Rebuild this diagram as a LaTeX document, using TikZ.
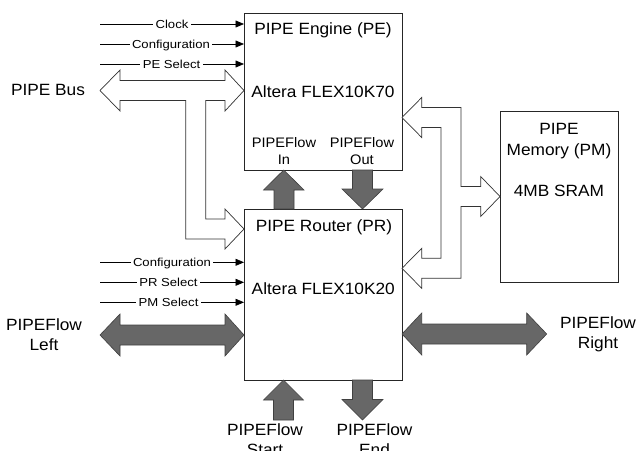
\documentclass[tikz,border=0pt]{standalone}
\usepackage{fontspec}
\setmainfont{Liberation Sans}
\newfontfamily\widefam[FakeStretch=1.06]{Liberation Sans}
\newfontfamily\smallfam[FakeStretch=1.13]{Liberation Sans}
\usetikzlibrary{arrows.meta}
\definecolor{flowgray}{HTML}{676767}
\begin{document}
\begin{tikzpicture}[x=1pt,y=-1pt,
  box/.style={draw=black!85, line width=0.8pt, fill=white, inner sep=0pt, anchor=north west},
  big/.style={font=\widefam\fontsize{16.3}{20.7}\selectfont, align=center, anchor=base, inner sep=0pt},
  mid/.style={font=\widefam\fontsize{13.8}{17}\selectfont, align=center, anchor=base, inner sep=0pt},
  lbl/.style={font=\smallfam\fontsize{11.6}{13}\selectfont, fill=white, inner xsep=2.5pt, inner ysep=1pt, text height=8.3pt, text depth=0pt},
  ctl/.style={line width=0.7pt, -{Triangle[length=8.5pt,width=7pt]}},
  bus/.style={draw=black!80, line width=0.7pt, fill=white, line join=miter},
  flow/.style={draw=black!75, line width=0.6pt, fill=flowgray, line join=miter}]
\useasboundingbox (0,0) rectangle (637,450);
\clip (0,0) rectangle (637,450);

% boxes
\node[box, minimum width=158pt, minimum height=157pt] (pe) at (244,13) {};
\node[box, minimum width=158pt, minimum height=171pt] (pr) at (244,209) {};
\node[box, minimum width=118pt, minimum height=171pt] (pm) at (500,111) {};

% PIPE bus (T-shaped outline arrow)
\draw[bus] (100,90.5) -- (120,70) -- (120,80.5) -- (225,80.5) -- (225,70) -- (244,90.5)
  -- (225,111) -- (225,100.5) -- (205.7,100.5) -- (205.7,219) -- (225,219) -- (225,209)
  -- (244,229) -- (225,249) -- (225,239) -- (185.7,239) -- (185.7,100.5) -- (120,100.5)
  -- (120,111) -- cycle;

% memory bus
\draw[bus] (402,117.5) -- (421.7,97.5) -- (421.7,107.5) -- (461,107.5) -- (461,186.5)
  -- (480.7,186.5) -- (480.7,176.5) -- (500,196.5) -- (480.7,216.5) -- (480.7,206.5)
  -- (461,206.5) -- (461,278.3) -- (421.7,278.3) -- (421.7,288.3) -- (402,268.3)
  -- (421.7,248.3) -- (421.7,258.3) -- (441,258.3) -- (441,127.5) -- (421.7,127.5)
  -- (421.7,137.5) -- cycle;

% PIPEFlow arrows
\draw[flow] (100,335) -- (120,314) -- (120,325) -- (225,325) -- (225,314) -- (244,335)
  -- (225,356) -- (225,345) -- (120,345) -- (120,356) -- cycle;
\draw[flow] (402,334) -- (421.7,313) -- (421.7,324) -- (526.7,324) -- (526.7,313) -- (546.7,334)
  -- (526.7,355) -- (526.7,344) -- (421.7,344) -- (421.7,355) -- cycle;
\draw[flow] (283.7,170) -- (304,190) -- (294,190) -- (294,209) -- (274,209) -- (274,190) -- (263.5,190) -- cycle;
\draw[flow] (352.5,170) -- (372.5,170) -- (372.5,189) -- (383,189) -- (362.5,209) -- (342,189) -- (352.5,189) -- cycle;
\draw[flow] (283.5,380) -- (303.5,400) -- (293.5,400) -- (293.5,420) -- (273.5,420) -- (273.5,400) -- (263.5,400) -- cycle;
\draw[flow] (352.5,380) -- (372.5,380) -- (372.5,399.5) -- (383,399.5) -- (362.5,420) -- (342,399.5) -- (352.5,399.5) -- cycle;

% control lines
\coordinate (c1) at (100,24);
\coordinate (c2) at (100,44);
\coordinate (c3) at (100,64);
\coordinate (c4) at (100,262.3);
\coordinate (c5) at (100,282.3);
\coordinate (c6) at (100,302.3);
\draw[ctl] (c1) -- node[lbl, pos=0.5] (lclock) {Clock} (c1 -| pe.west);
\draw[ctl] (c2) -- node[lbl, pos=0.493] (lconf1) {Configuration} (c2 -| pe.west);
\draw[ctl] (c3) -- node[lbl, pos=0.497] (lpesel) {PE Select} (c3 -| pe.west);
\draw[ctl] (c4) -- node[lbl, pos=0.5] (lconf2) {Configuration} (c4 -| pr.west);
\draw[ctl] (c5) -- node[lbl, pos=0.475] (lprsel) {PR Select} (c5 -| pr.west);
\draw[ctl] (c6) -- node[lbl, pos=0.476] (lpmsel) {PM Select} (c6 -| pr.west);

% texts (anchor=base is the baseline of the last line)
\node[big] (tpe) at (323,34.8) {PIPE Engine (PE)};
\node[big] (tpechip) at (323,97.8) {Altera FLEX10K70};
\node[mid] (tin) at (284,164.9) {PIPEFlow\\In};
\node[mid] (tout) at (362,164.9) {PIPEFlow\\Out};
\node[big] (tpr) at (324,231.3) {PIPE Router (PR)};
\node[big] (tprchip) at (323.3,294.8) {Altera FLEX10K20};
\node[big] (tpm) at (559,196.6) {PIPE\\Memory (PM)\\[20.7pt]4MB SRAM};
\node[big] (tbus) at (48,95.8) {PIPE Bus};
\node[big] (tleft) at (44,350.8) {PIPEFlow\\Left};
\node[big] (tright) at (598,348.8) {PIPEFlow\\Right};
\node[big] (tstart) at (265,455.8) {PIPEFlow\\Start};
\node[big] (tend) at (374.5,455.8) {PIPEFlow\\End};
\end{tikzpicture}
\end{document}
